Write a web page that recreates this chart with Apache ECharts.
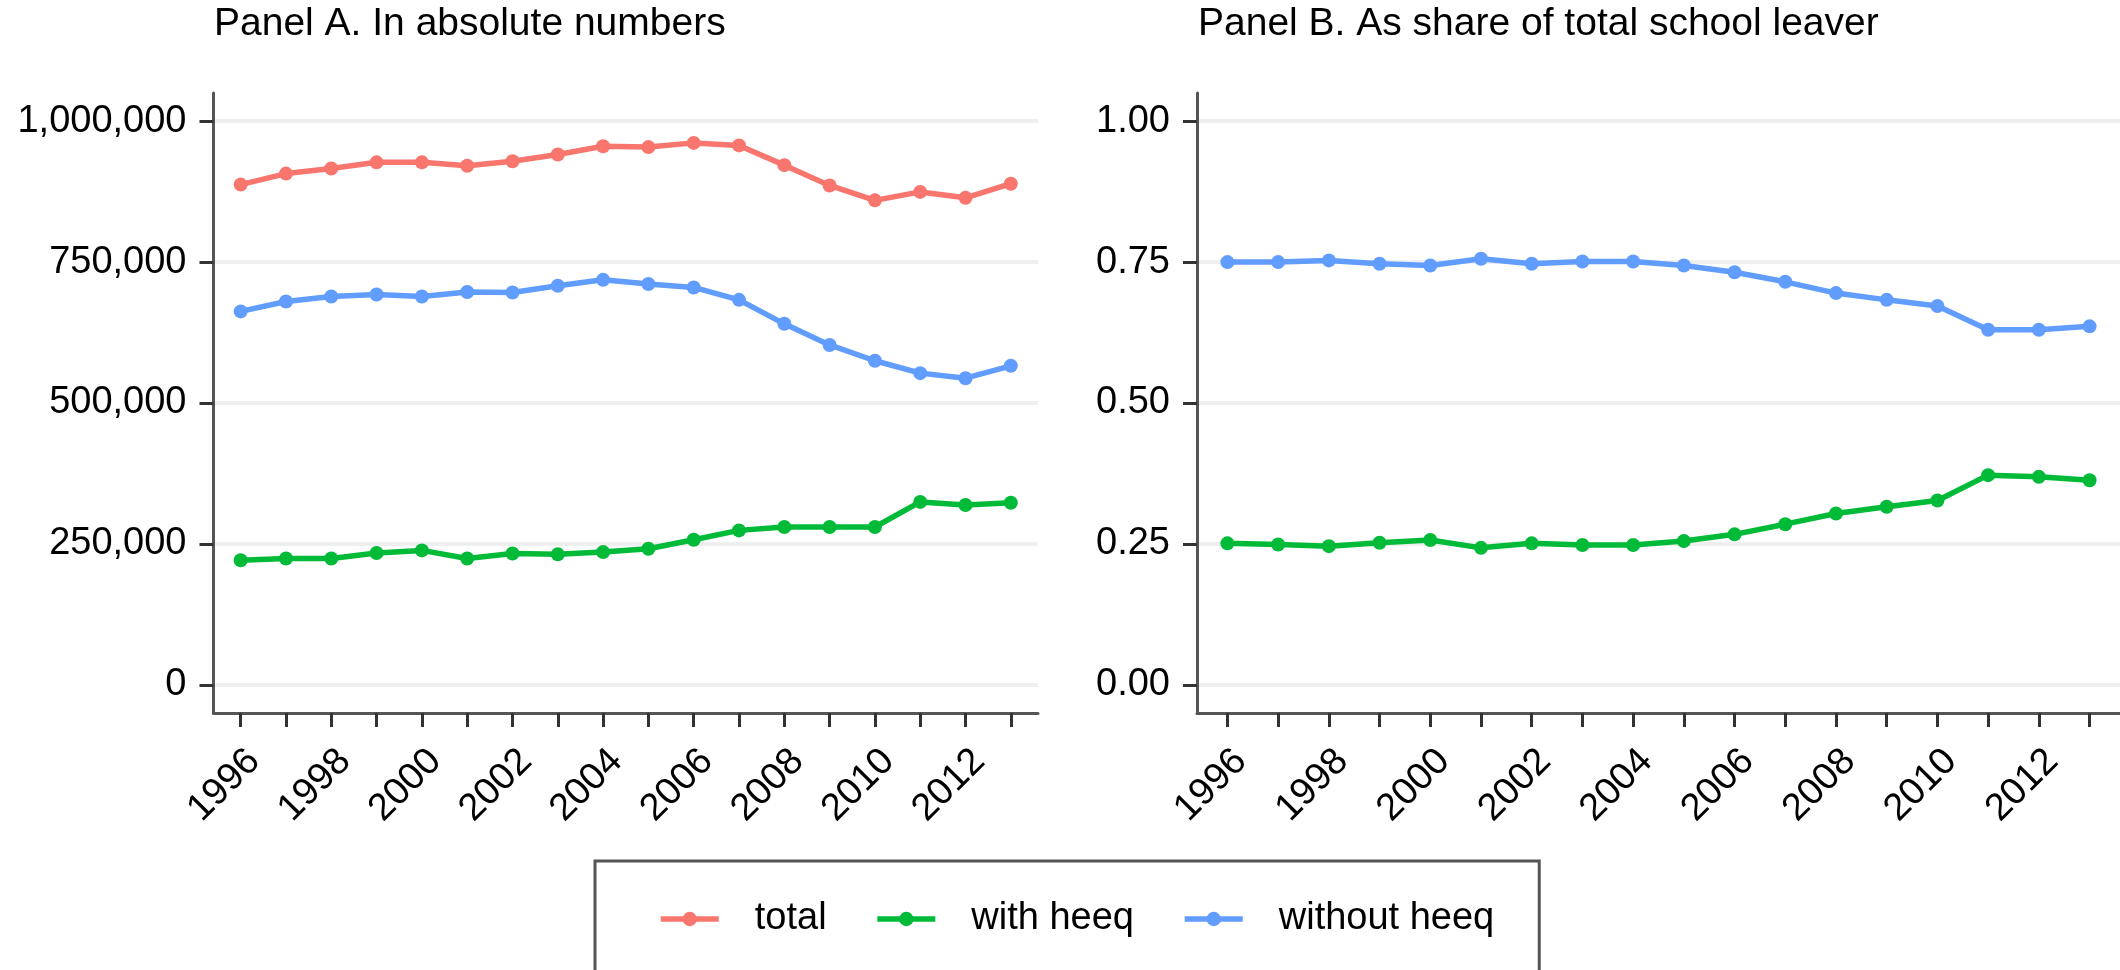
<!DOCTYPE html>
<html>
<head>
<meta charset="utf-8">
<title>School leavers with and without heeq</title>
<script src="https://cdn.jsdelivr.net/npm/echarts@6/dist/echarts.min.js"></script>
<style>
  html, body { margin: 0; padding: 0; background: #ffffff; }
  #chart { width: 2120px; height: 970px; }
</style>
</head>
<body>
<div id="chart"></div>
<script>
// Years on the horizontal axis (one tick per year, labels every second year)
const years = [1996, 1997, 1998, 1999, 2000, 2001, 2002, 2003, 2004, 2005,
               2006, 2007, 2008, 2009, 2010, 2011, 2012, 2013];
const yearLabels = [1996, 1998, 2000, 2002, 2004, 2006, 2008, 2010, 2012];

// Panel A: school leavers in absolute numbers
const totalAbs = [887500, 907000, 916000, 927000, 927000, 921000, 929000, 941000, 955500,
                  954000, 961500, 957000, 922000, 886000, 859500, 874500, 864000, 889000];
const withHeeqAbs = [221000, 224000, 224000, 234000, 238500, 224000, 233000, 231500, 235500,
                     241500, 257500, 274000, 280000, 280000, 280000, 324500, 319000, 323000];
const withoutHeeqAbs = [662500, 680000, 689000, 692500, 689000, 697000, 696000, 708000, 718500,
                        711000, 705000, 683000, 640500, 603000, 575000, 553000, 544000, 566000];

// Panel B: shares of total school leavers
const withHeeqShare = [0.251, 0.249, 0.246, 0.252, 0.257, 0.243, 0.251, 0.248, 0.248,
                       0.255, 0.267, 0.285, 0.304, 0.316, 0.327, 0.372, 0.369, 0.363];
const withoutHeeqShare = [0.750, 0.750, 0.753, 0.747, 0.744, 0.756, 0.747, 0.751, 0.751,
                          0.744, 0.732, 0.715, 0.695, 0.683, 0.672, 0.630, 0.630, 0.636];

// Y-axis tick values
const ticksAbs = [0, 250000, 500000, 750000, 1000000];
const ticksShare = [0, 0.25, 0.5, 0.75, 1.0];

const COLORS = { total: '#F8766D', withHeeq: '#00BA38', withoutHeeq: '#619CFF' };
const FONT = '"Liberation Sans", Arial, sans-serif';
const LINE_W = 5.5;

const pairs = (vals) => years.map((y, i) => [y, vals[i]]);

function xAxisFor(gridIndex) {
  return {
    type: 'value', gridIndex, min: 1995.4, max: 2013.6,
    axisLine: { show: true, onZero: false, lineStyle: { color: '#555555', width: 3 } },
    axisTick: { show: true, length: 14, customValues: years,
                lineStyle: { color: '#333333', width: 3 } },
    axisLabel: { customValues: yearLabels, rotate: 45, align: 'right', verticalAlign: 'top',
                 margin: 29, fontSize: 38, color: '#000000', fontFamily: FONT,
                 formatter: (v) => String(v) },
    splitLine: { show: false }
  };
}

function yAxisFor(gridIndex, min, max, ticks, fmt) {
  return {
    type: 'value', gridIndex, min, max,
    axisLine: { show: true, onZero: false, lineStyle: { color: '#555555', width: 3 } },
    axisTick: { show: true, length: 14, customValues: ticks,
                lineStyle: { color: '#333333', width: 3 } },
    axisLabel: { customValues: ticks, margin: 27, fontSize: 38, color: '#000000',
                 fontFamily: FONT, formatter: fmt },
    splitLine: { show: true, lineStyle: { color: '#EFEFEF', width: 4 } }
  };
}

function lineSeries(name, idx, vals, color) {
  return {
    name, type: 'line', xAxisIndex: idx, yAxisIndex: idx,
    data: pairs(vals),
    symbol: 'circle', symbolSize: 14, showAllSymbol: true,
    lineStyle: { color, width: LINE_W },
    itemStyle: { color },
    emphasis: { disabled: true },
    animation: false
  };
}

const chart = echarts.init(document.getElementById('chart'), null, { renderer: 'canvas' });

chart.setOption({
  backgroundColor: '#ffffff',
  animation: false,
  title: [
    { text: 'Panel A. In absolute numbers', left: 214, top: 5, padding: 0,
      textStyle: { fontSize: 39, fontWeight: 'normal', color: '#000000', fontFamily: FONT } },
    { text: 'Panel B. As share of total school leaver', left: 1198, top: 5, padding: 0,
      textStyle: { fontSize: 39, fontWeight: 'normal', color: '#000000', fontFamily: FONT } }
  ],
  grid: [
    { left: 213.5, top: 93, width: 824.5, height: 620, containLabel: false },
    { left: 1197, top: 93, width: 923, height: 620, containLabel: false }
  ],
  xAxis: [xAxisFor(0), xAxisFor(1)],
  yAxis: [
    yAxisFor(0, -50000, 1050000, ticksAbs, (v) => v.toLocaleString('en-US')),
    yAxisFor(1, -0.05, 1.05, ticksShare, (v) => v.toFixed(2))
  ],
  legend: {
    left: 595, top: 861,
    padding: [39, 45, 38, 63],
    borderColor: '#555555', borderWidth: 3,
    itemWidth: 58, itemHeight: 18, itemGap: 48,
    lineStyle: { width: LINE_W },
    textStyle: { fontSize: 38, color: '#000000', fontFamily: FONT, padding: [0, 0, 0, 31] },
    data: ['total', 'with heeq', 'without heeq'],
    selectedMode: false
  },
  series: [
    lineSeries('total', 0, totalAbs, COLORS.total),
    lineSeries('with heeq', 0, withHeeqAbs, COLORS.withHeeq),
    lineSeries('without heeq', 0, withoutHeeqAbs, COLORS.withoutHeeq),
    lineSeries('with heeq', 1, withHeeqShare, COLORS.withHeeq),
    lineSeries('without heeq', 1, withoutHeeqShare, COLORS.withoutHeeq)
  ]
});
</script>
</body>
</html>
